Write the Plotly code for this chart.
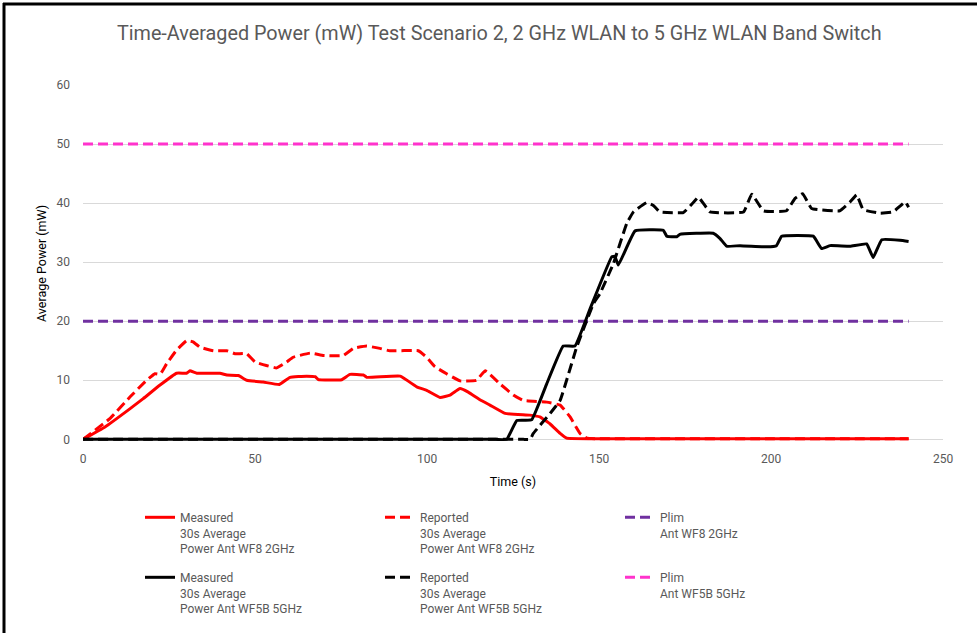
import plotly.graph_objects as go

# ---- data ----
t_meas_wf8 = [0, 6.4, 13.7, 17.5, 22.4, 27.2, 30.1, 31.1, 33.1, 39.8, 41.8, 45.2, 47.6, 52.4, 57.1,
              60.2, 65, 67.5, 68.4, 75.2, 77.6, 81.5, 82.5, 92.2, 97, 99.9, 103.8, 106.7, 109.6, 112,
              115.4, 118.3, 122.7, 129.9, 132.8, 135.8, 138.7, 140.6, 150, 175, 200, 220, 240]
p_meas_wf8 = [0, 2.1, 5.2, 6.9, 9.2, 11.2, 11.2, 11.6, 11.2, 11.2, 10.9, 10.8, 10.0, 9.7, 9.3,
              10.5, 10.7, 10.6, 10.1, 10.1, 11.0, 10.9, 10.5, 10.7, 8.9, 8.3, 7.1, 7.5, 8.6, 8.0,
              6.7, 5.8, 4.4, 4.1, 3.8, 2.6, 1.0, 0.2, 0.1, 0.1, 0.1, 0.1, 0.1]

t_rep_wf8 = [0, 7.8, 13.7, 18.5, 20.9, 22.4, 24.3, 27.2, 30.1, 32, 34, 37.9, 41.8, 44.2, 47.6, 50,
             53.3, 56.3, 59.2, 61.1, 66, 69.9, 75.7, 78.6, 82.5, 86.3, 89.2, 97.5, 99.9, 102.3,
             105.7, 109.6, 114.4, 116.9, 121.2, 125.1, 128, 134.8, 138.7, 141.6, 144.5, 146.5, 150,
             175, 200, 220, 240]
p_rep_wf8 = [0, 3.5, 7.2, 10.0, 11.1, 11.0, 12.8, 15.1, 16.7, 16.5, 15.6, 15.0, 15.0, 14.5, 14.5, 13.1,
             12.5, 12.1, 13.1, 13.9, 14.6, 14.2, 14.2, 15.4, 15.8, 15.4, 15.0, 15.0, 13.9, 12.3,
             11.1, 9.9, 10.0, 11.6, 9.4, 7.5, 6.6, 6.3, 5.8, 3.8, 1.0, 0.2, 0.1,
             0.1, 0.1, 0.1, 0.1]

t_meas_wf5b = [0, 20, 40, 60, 80, 100, 120, 123.2, 126.1, 130.4, 134.8, 139.6, 143, 147.4, 153.7,
               154.6, 155.6, 160.5, 168.7, 169.7, 172.6, 173.5, 183.2, 185.2, 187.1, 191, 198.7,
               201.6, 203.1, 212.3, 214.7, 217.2, 223, 227.8, 229.7, 232.2, 237.5, 240]
p_meas_wf5b = [0, 0, 0, 0, 0, 0, 0, 0, 3.2, 3.3, 9.4, 15.8, 15.8, 22.1, 30.9,
               31.0, 29.5, 35.3, 35.4, 34.4, 34.3, 34.7, 34.9, 34.0, 32.7, 32.8, 32.6,
               32.8, 34.4, 34.4, 32.3, 32.8, 32.7, 33.1, 30.8, 33.8, 33.7, 33.5]

t_rep_wf5b = [0, 20, 40, 60, 80, 100, 120, 128, 130, 130.9, 135.8, 138.7, 143.5, 148.4, 150.3,
              154.2, 158.1, 160, 163.9, 165.8, 167.7, 174.5, 177.4, 178.9, 182.3, 192, 194.4,
              197.8, 204.5, 207, 209.2, 211.8, 220, 223, 224.9, 226.8, 231.7, 235.5, 239, 240]
p_rep_wf5b = [0, 0, 0, 0, 0, 0, 0, 0, 0, 1.0, 4.4, 6.6, 15.6, 23.0, 24.7,
              29.8, 36.6, 38.5, 40.1, 39.6, 38.5, 38.4, 40.1, 41.0, 38.5, 38.5, 41.5,
              38.7, 38.7, 40.8, 41.6, 39.1, 38.7, 40.2, 41.4, 38.9, 38.3, 38.5, 40.2, 39.3]

t_plim = [0, 240]
plim_wf8 = [20, 20]
plim_wf5b = [50, 50]

names = [
    "Measured<br>30s Average<br>Power Ant WF8 2GHz",
    "Reported<br>30s Average<br>Power Ant WF8 2GHz",
    "Plim<br>Ant WF8 2GHz",
    "Measured<br>30s Average<br>Power Ant WF5B 5GHz",
    "Reported<br>30s Average<br>Power Ant WF5B 5GHz",
    "Plim<br>Ant WF5B 5GHz",
]

FONT = "Roboto, Arial, sans-serif"
GREY = "#595959"
W, H = 977, 633
L, T, B = 83, 85, 191

fig = go.Figure()
series = [
    (t_meas_wf8, p_meas_wf8, "#FF0000", "solid", "legend"),
    (t_rep_wf8, p_rep_wf8, "#FF0000", "10px,5px", "legend"),
    (t_plim, plim_wf8, "#7030A0", "10px,5px", "legend"),
    (t_meas_wf5b, p_meas_wf5b, "#000000", "solid", "legend2"),
    (t_rep_wf5b, p_rep_wf5b, "#000000", "10px,5px", "legend2"),
    (t_plim, plim_wf5b, "#FF33CC", "10px,5px", "legend2"),
]
for (tx, py, col, dash, lg), nm in zip(series, names):
    fig.add_trace(go.Scatter(x=tx, y=py, mode="lines", name=nm, legend=lg,
                             line=dict(color=col, width=3, dash=dash, shape="spline", smoothing=0.3)))

leg_common = dict(orientation="h", xref="container", yref="container", x=140 / W, xanchor="left",
                  yanchor="top", entrywidth=195, entrywidthmode="pixels", valign="top",
                  font=dict(family=FONT, size=12, color=GREY), bgcolor="rgba(0,0,0,0)",
                  traceorder="normal", borderwidth=0)

plot_w = 860
fig.update_layout(
    width=W, height=H,
    margin=dict(l=L, r=W - L - plot_w, t=T, b=B, autoexpand=False),
    paper_bgcolor="white", plot_bgcolor="white",
    font=dict(family=FONT, size=12, color=GREY),
    title=dict(text="Time-Averaged Power (mW) Test Scenario 2, 2 GHz WLAN to 5 GHz WLAN Band Switch",
               x=0.511, xanchor="center", y=1 - 33 / H, yanchor="middle",
               font=dict(family=FONT, size=19.8, color=GREY)),
    xaxis=dict(range=[0, 250], tickvals=[0, 50, 100, 150, 200, 250], showgrid=False,
               zeroline=False, showline=False, ticks="", ticklabelstandoff=8, automargin=False,
               title=dict(text="Time (s)", font=dict(color="#000000", size=12.5), standoff=12)),
    yaxis=dict(range=[-0.45, 60], tickvals=[0, 10, 20, 30, 40, 50, 60], showgrid=True,
               gridcolor="#D9D9D9", gridwidth=1, zeroline=False, showline=False, ticks="",
               ticklabelstandoff=12, automargin=False,
               title=dict(text="Average Power (mW)", font=dict(color="#000000", size=12.5), standoff=7)),
    legend=dict(leg_common, y=1 - 503 / H),
    legend2=dict(leg_common, y=1 - 563 / H),
    shapes=[
        dict(type="line", xref="paper", yref="paper", x0=(4 - L) / plot_w, x1=(4 - L) / plot_w,
             y0=(H - B - 3) / (H - T - B), y1=(H - B - 650) / (H - T - B),
             line=dict(color="black", width=3)),
        dict(type="line", xref="paper", yref="paper", x0=(3 - L) / plot_w, x1=(990 - L) / plot_w,
             y0=(H - B - 4) / (H - T - B), y1=(H - B - 4) / (H - T - B),
             line=dict(color="black", width=3)),
    ],
)

fig.write_html("out.html", config={"displayModeBar": False},
               post_script="document.body.style.margin='0';document.body.style.overflow='hidden';")
